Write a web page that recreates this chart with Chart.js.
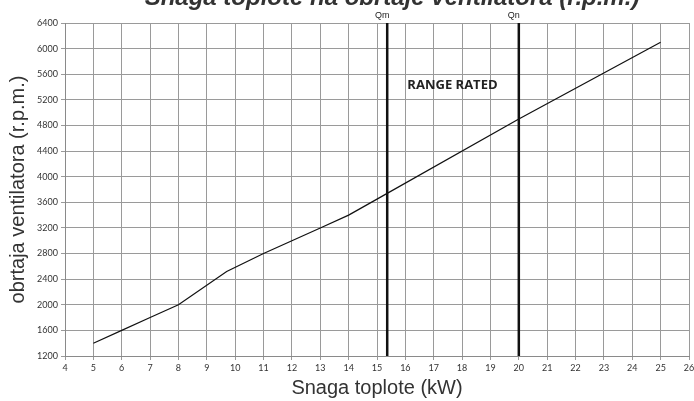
<!DOCTYPE html>
<html>
<head>
<meta charset="utf-8">
<script src="https://cdn.jsdelivr.net/npm/chart.js@4/dist/chart.umd.min.js"></script>
<style>
  html, body { margin: 0; padding: 0; background: #fff; }
  #wrap { width: 694px; height: 401px; position: relative; }
</style>
</head>
<body>
<div id="wrap"><canvas id="lineChart" width="694" height="401"></canvas></div>
<script>
// heat output (kW) vs fan speed (r.p.m.)
var snaga = [5, 6, 7, 8, 9.7, 11, 12, 13, 14, 15, 20, 25];
var obrtaji = [1400, 1600, 1800, 2000, 2520, 2800, 3000, 3200, 3400, 3650, 4900, 6100];

// rated range markers
var qLabels = ['Qm', 'Qn'];
var qValues = [15.36, 20];
var rangeText = 'RANGE RATED';
var rangePos = [17.66, 5420];

var xMin = 4, xMax = 26, yMin = 1200, yMax = 6400, yStep = 400;

var naslov = 'Snaga toplote na obrtaje ventilatora (r.p.m.)';

var dataPoints = snaga.map(function (x, i) { return { x: x, y: obrtaji[i] }; });

var qSets = qValues.map(function (q, i) {
  return {
    label: qLabels[i],
    data: [{ x: q, y: yMin }, { x: q, y: yMax }],
    borderColor: '#111',
    borderWidth: 2.5,
    pointRadius: 0,
    fill: false
  };
});

var extraText = {
  id: 'extraText',
  afterDraw: function (chart) {
    var ctx = chart.ctx;
    var xs = chart.scales.x, ys = chart.scales.y;
    ctx.save();
    // title (cut off at the top of the picture)
    ctx.fillStyle = '#333';
    ctx.font = 'italic bold 24px "Liberation Sans"';
    ctx.textAlign = 'center';
    ctx.textBaseline = 'alphabetic';
    ctx.fillText(naslov, 392, 5);

    ctx.fillStyle = '#222';
    ctx.font = '9px "Liberation Sans"';
    ctx.textBaseline = 'middle';
    qValues.forEach(function (q, i) {
      ctx.fillText(qLabels[i], xs.getPixelForValue(q) - 5, 16);
    });

    ctx.font = 'bold 13px "Open Sans"';
    ctx.fillStyle = '#222';
    ctx.fillText(rangeText, xs.getPixelForValue(rangePos[0]), ys.getPixelForValue(rangePos[1]));
    ctx.restore();
  }
};

var plainNum = function (v) { return String(v); };

var lineChart = new Chart(document.getElementById('lineChart'), {
  type: 'line',
  data: {
    datasets: [{
      label: 'obrtaji',
      data: dataPoints,
      borderColor: '#111',
      borderWidth: 1.2,
      pointRadius: 0,
      fill: false,
      tension: 0
    }].concat(qSets)
  },
  options: {
    responsive: false,
    animation: false,
    layout: { padding: { top: 23, right: 5, left: 0, bottom: 0 } },
    plugins: {
      legend: { display: false },
      tooltip: { enabled: false }
    },
    scales: {
      x: {
        type: 'linear',
        min: xMin,
        max: xMax,
        ticks: {
          stepSize: 1,
          color: '#333',
          padding: 3,
          maxRotation: 0,
          callback: plainNum,
          font: { family: 'Lato', size: 9 }
        },
        grid: { color: '#9a9a9a', lineWidth: 1, tickLength: 4 },
        border: { color: '#8a8a8a' },
        title: {
          display: true,
          text: 'Snaga toplote (kW)',
          color: '#333',
          font: { family: 'Liberation Sans', size: 20 },
          padding: { top: 0, bottom: 1 }
        },
        afterFit: function (scale) {
          scale.height = 45;
          scale.paddingLeft = 0;
          scale.paddingRight = 0;
        }
      },
      y: {
        min: yMin,
        max: yMax,
        ticks: {
          stepSize: yStep,
          color: '#333',
          padding: 3,
          callback: plainNum,
          font: { family: 'Lato', size: 9 }
        },
        grid: { color: '#9a9a9a', lineWidth: 1, tickLength: 4 },
        border: { color: '#8a8a8a' },
        title: {
          display: true,
          text: 'obrtaja ventilatora (r.p.m.)',
          color: '#333',
          font: { family: 'Liberation Sans', size: 20 },
          padding: { top: 6, bottom: 0 }
        },
        afterFit: function (scale) {
          scale.width = 65;
          scale.paddingTop = 0;
          scale.paddingBottom = 0;
        }
      }
    }
  },
  plugins: [extraText]
});
</script>
</body>
</html>
